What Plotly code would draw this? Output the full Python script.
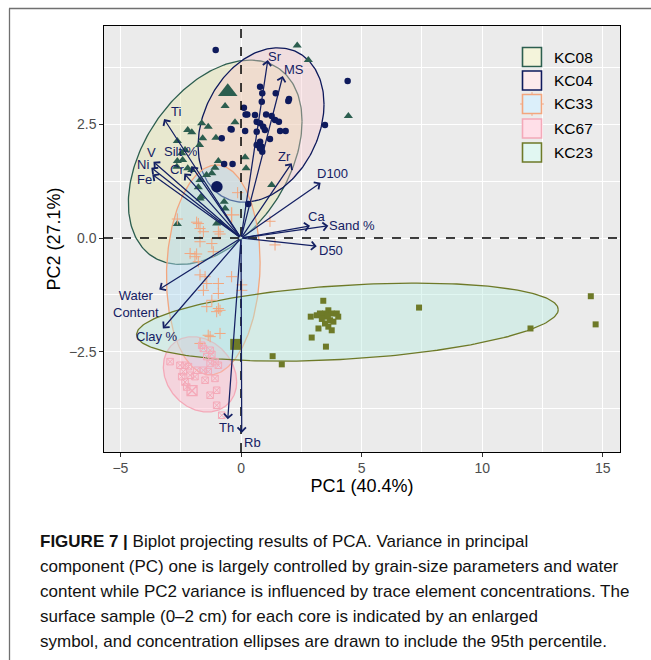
import numpy as np
import plotly.graph_objects as go

W, H = 651, 660
ML, MR, MT, MB = 104, 31, 26, 208
XR = [-5.68, 15.71]
YR = [-4.71, 4.67]

# ---------------- data ----------------
groups = ["KC08", "KC04", "KC33", "KC67", "KC23"]

kc08_x = [2.33, 2.79, 4.45, -0.66, -1.63, -2.21, -2.04, -1.36, -0.25, -1.04, -1.59, -2.64,
          -2.32, -2.46, -2.64, -2.42, -2.66, -0.94, 0.17, 0.21, -2.21, -2.04, -1.43, -1.21,
          -1.08, 1.27, -1.77, -1.66, -1.70, -0.66, -2.64, -1.01, -1.72, -1.70, -0.87, -0.70]
kc08_y = [4.24, 3.92, 2.69, 2.91, 2.53, 2.38, 2.33, 2.45, 2.55, 2.21, 2.20, 2.14,
          1.94, 1.87, 1.70, 1.72, 1.57, 1.70, 1.78, 1.54, 1.54, 1.50, 1.39, 1.43,
          1.55, 1.17, 1.12, 0.91, 0.87, 0.65, 0.31, 0.32, 2.05, 1.28, 0.34, 0.80]
kc08_surf = [-0.55, 3.22]

kc04_x = [-1.05, 3.48, 4.42, 0.79, 0.88, 0.86, 1.44, 1.96, 1.99, 0.12, 0.19, 0.26, 0.58,
          1.04, 1.27, 1.41, 1.57, 1.62, 1.85, 0.65, 0.79, 0.92, 0.99, 0.65, 1.20, 0.79,
          0.86, 0.88, -0.39, -0.80, 0.17, -0.70, -0.35, 0.30, 0.65, 0.79, -0.43]
kc04_y = [4.14, 2.49, 3.46, 3.33, 3.19, 3.00, 3.19, 3.02, 3.06, 2.87, 2.72, 2.72, 2.71,
          2.72, 2.69, 2.60, 2.56, 2.36, 2.36, 2.56, 2.53, 2.45, 2.38, 2.34, 2.18, 2.12,
          2.01, 1.90, 2.39, 2.20, 2.36, 1.63, 1.63, 0.75, 2.05, 1.97, 2.40]
kc04_surf = [-1.00, 1.13]

kc33_x = [-0.14, 1.20, -2.64, -1.84, -1.70, -0.94, -1.56, -0.87, -1.70, -1.21, -2.11, -1.84,
          -1.91, -1.15, -1.70, -1.49, -0.39, -1.42, -0.94, 0.03, -1.56, -0.94, -1.21, -1.42,
          -0.94, -0.87, -1.01, -0.87, -1.28, -1.70, 1.41, -1.77, -1.77, 0.03, -1.36]
kc33_y = [1.00, 0.37, 0.42, 0.35, 0.21, 0.14, 0.14, 0.09, -0.08, -0.12, -0.34, -0.35,
          -0.41, -0.30, -0.81, -0.85, -0.85, -1.00, -1.00, -1.03, -1.15, -1.22, -1.37, -1.51,
          -1.55, -1.59, -1.62, -2.10, -2.17, -2.32, -0.15, 0.32, -0.52, -1.15, -2.14]
kc33_surf = [-0.39, 0.51]

kc67_x = [-2.94, -2.53, -2.32, -2.18, -2.39, -2.46, -2.32, -2.11, -1.84, -1.56, -1.36, -1.08,
          -1.49, -1.91, -1.28, -1.01, -1.01, -0.80, -2.25, -1.28, -1.21, -1.42, -1.08, -0.94,
          -1.28, -1.63, -1.56]
kc67_y = [-2.72, -2.80, -2.80, -2.83, -2.94, -3.05, -3.17, -3.02, -2.91, -2.91, -2.94, -3.09,
          -3.13, -3.05, -3.46, -3.35, -3.68, -3.90, -3.28, -2.47, -2.56, -2.61, -2.72, -2.80,
          -2.76, -2.36, -2.43]
kc67_surf = [-2.03, -3.36]

kc23_x = [3.41, 2.89, 3.14, 3.27, 3.48, 3.62, 3.76, 3.97, 4.03, 3.55, 3.69, 3.48, 3.83,
          3.62, 3.76, 3.21, 2.93, 3.52, 1.69, 1.31, 7.38, 12.0, 14.5, 14.7, 3.35, 3.60]
kc23_y = [-1.38, -1.73, -1.70, -1.66, -1.66, -1.59, -1.66, -1.66, -1.73, -1.73, -1.81, -1.88,
          -1.84, -1.95, -2.03, -1.99, -2.19, -2.39, -2.78, -2.60, -1.53, -1.99, -1.28, -1.90,
          -1.78, -1.70]
kc23_surf = [-0.22, -2.34]

# concentration ellipses: centre, half extents, phase cosine
ell_cx = [-1.07, 0.83, -1.15, -1.70, 4.41]
ell_cy = [1.67, 2.49, -0.70, -3.00, -1.85]
ell_rx = [3.60, 2.61, 1.94, 1.52, 8.74]
ell_ry = [2.25, 1.70, 2.31, 0.83, 0.86]
ell_c = [0.40, 0.27, 0.07, -0.20, 0.32]

# variable loadings (arrow tips) and label anchors
var_names = ["Sr", "MS", "Ti", "V", "Ni", "Fe", "Silt %", "Cr", "Zr", "D100", "Ca",
             "Sand %", "D50", "Water<br>Content", "Clay %", "Th", "Rb"]
var_x = [1.11, 1.73, -3.19, -3.63, -3.72, -3.68, -2.05, -2.35, 2.10, 3.30, 2.86,
         3.62, 3.14, -3.39, -3.24, -0.55, 0.03]
var_y = [3.92, 3.57, 2.62, 1.68, 1.55, 1.40, 1.58, 1.42, 1.65, 1.22, 0.27,
         0.27, -0.18, -1.13, -1.99, -3.99, -4.29]
lab_x = [1.42, 2.18, -2.69, -3.72, -4.05, -4.00, -2.50, -2.65, 1.82, 3.79, 3.12,
         4.59, 3.72, -4.35, -3.49, -0.59, 0.49]
lab_y = [4.00, 3.72, 2.78, 1.89, 1.61, 1.29, 1.90, 1.50, 1.80, 1.42, 0.48,
         0.27, -0.28, -1.45, -2.16, -4.16, -4.51]

caption = [
    "<b>FIGURE 7 |</b> Biplot projecting results of PCA. Variance in principal",
    "component (PC) one is largely controlled by grain-size parameters and water",
    "content while PC2 variance is influenced by trace element concentrations. The",
    "surface sample (0\u20132 cm) for each core is indicated by an enlarged",
    "symbol, and concentration ellipses are drawn to include the 95th percentile.",
]

# ---------------- styles ----------------
NAVY = "#142063"
col = {"KC08": "#2C5E4F", "KC04": "#0E1A5C", "KC33": "#F3A67E", "KC67": "#F4A9B8", "KC23": "#6E7A28"}
fillc = {"KC08": "rgba(228,228,165,0.40)", "KC04": "rgba(250,200,205,0.38)",
         "KC33": "rgba(175,220,245,0.45)", "KC67": "rgba(255,185,205,0.45)",
         "KC23": "rgba(180,235,222,0.40)"}
sym = {"KC08": "triangle-up", "KC04": "circle", "KC33": "cross-thin-open",
       "KC67": "square-x-open", "KC23": "square"}
msize = {"KC08": 8, "KC04": 6.5, "KC33": 8, "KC67": 6.5, "KC23": 6}
bsize = {"KC08": 17, "KC04": 11.5, "KC33": 11, "KC67": 10, "KC23": 11}

pts = {"KC08": (kc08_x, kc08_y, kc08_surf), "KC04": (kc04_x, kc04_y, kc04_surf),
       "KC33": (kc33_x, kc33_y, kc33_surf), "KC67": (kc67_x, kc67_y, kc67_surf),
       "KC23": (kc23_x, kc23_y, kc23_surf)}

fig = go.Figure()

t = np.linspace(0, 2 * np.pi, 240)
for i, g in enumerate(groups):
    phi = np.arccos(ell_c[i])
    ex = ell_cx[i] + ell_rx[i] * np.cos(t)
    ey = ell_cy[i] + ell_ry[i] * np.cos(t - phi)
    fig.add_trace(go.Scatter(x=ex, y=ey, mode="lines", fill="toself", fillcolor=fillc[g],
                             line=dict(color=col[g], width=1.3), hoverinfo="skip", showlegend=False))

for g in groups:
    x, y, s = pts[g]
    lw = 1.0 if "open" in sym[g] else 0
    fig.add_trace(go.Scatter(x=x, y=y, mode="markers",
                             marker=dict(symbol=sym[g], size=msize[g], color=col[g],
                                         line=dict(width=lw, color=col[g])),
                             showlegend=False))
    fig.add_trace(go.Scatter(x=[s[0]], y=[s[1]], mode="markers",
                             marker=dict(symbol=sym[g], size=bsize[g], color=col[g],
                                         line=dict(width=lw * 1.3, color=col[g])),
                             showlegend=False))

def px2paper_x(px):
    return (px - ML) / (W - ML - MR)

def py2paper_y(py):
    return (H - MB - py) / (H - MT - MB)

anns = []
for i, n in enumerate(var_names):
    anns.append(dict(x=var_x[i], y=var_y[i], ax=0, ay=0, xref="x", yref="y", axref="x", ayref="y",
                     text="", showarrow=True, arrowhead=4, arrowsize=1.3, arrowwidth=1.25,
                     arrowcolor=NAVY, standoff=0, startstandoff=0))
for i, n in enumerate(var_names):
    anns.append(dict(x=lab_x[i], y=lab_y[i], xref="x", yref="y", text=n, showarrow=False,
                     font=dict(size=13, color=NAVY, family="Liberation Sans, Arial"),
                     xanchor="center", yanchor="middle", align="center"))

# legend (manual)
leg_x0, leg_x1 = 522.5, 541.5
leg_yc = [57.0, 80.5, 104.0, 128.5, 152.5]
shapes = []
for i, g in enumerate(groups):
    shapes.append(dict(type="rect", xref="paper", yref="paper",
                       x0=px2paper_x(leg_x0), x1=px2paper_x(leg_x1),
                       y0=py2paper_y(leg_yc[i] - 9.5), y1=py2paper_y(leg_yc[i] + 9.5),
                       fillcolor="white", line=dict(width=0), layer="above"))
    shapes.append(dict(type="rect", xref="paper", yref="paper",
                       x0=px2paper_x(leg_x0), x1=px2paper_x(leg_x1),
                       y0=py2paper_y(leg_yc[i] - 9.5), y1=py2paper_y(leg_yc[i] + 9.5),
                       fillcolor=fillc[g], line=dict(color=col[g], width=1.6), layer="above"))
    anns.append(dict(x=px2paper_x(551.5), y=py2paper_y(leg_yc[i]), xref="paper", yref="paper",
                     text=g, showarrow=False, xanchor="left", yanchor="middle",
                     font=dict(size=15.5, color="black", family="Liberation Sans, Arial")))
    lsz = {"KC08": 15, "KC04": 12, "KC33": 17, "KC67": 13, "KC23": 11}[g]
    fig.add_trace(go.Scatter(x=[px2paper_x((leg_x0 + leg_x1) / 2)], y=[py2paper_y(leg_yc[i])],
                             xaxis="x2", yaxis="y2", mode="markers",
                             marker=dict(symbol=sym[g], size=lsz, color=col[g],
                                         line=dict(width=1.0 if "open" in sym[g] else 0, color=col[g])),
                             showlegend=False))

# zero lines
shapes.append(dict(type="line", xref="x", yref="paper", x0=0, x1=0, y0=0, y1=1,
                   line=dict(color="black", width=1.5, dash="dash"), layer="above"))
shapes.append(dict(type="line", xref="paper", yref="y", x0=0, x1=1, y0=0, y1=0,
                   line=dict(color="black", width=1.5, dash="dash"), layer="above"))
# outer frame
shapes.append(dict(type="line", xref="paper", yref="paper", x0=px2paper_x(9), x1=px2paper_x(651),
                   y0=py2paper_y(8.5), y1=py2paper_y(8.5), line=dict(color="#707070", width=1.3)))
shapes.append(dict(type="line", xref="paper", yref="paper", x0=px2paper_x(9.5), x1=px2paper_x(9.5),
                   y0=py2paper_y(8.5), y1=py2paper_y(660), line=dict(color="#707070", width=1.3)))

cap_y = [541, 566, 591, 616, 641]
for i, line in enumerate(caption):
    anns.append(dict(x=px2paper_x(38), y=py2paper_y(cap_y[i]), xref="paper", yref="paper",
                     text=line, showarrow=False, xanchor="left", yanchor="middle",
                     font=dict(size=17, color="#111111", family="Liberation Sans, Arial")))

axis_common = dict(showline=True, mirror=True, linecolor="black", linewidth=1.3,
                   ticks="outside", ticklen=3.5, tickcolor="#333333", tickwidth=1.1,
                   gridcolor="white", gridwidth=1.2, zeroline=False, automargin=False,
                   tickfont=dict(size=14, color="#4D4D4D", family="Liberation Sans, Arial"))

fig.update_layout(
    width=W, height=H, margin=dict(l=ML, r=MR, t=MT, b=MB),
    paper_bgcolor="white", plot_bgcolor="#EBEBEB", showlegend=False,
    xaxis=dict(range=XR, tickvals=[-5, 0, 5, 10, 15], ticktext=["\u22125", "0", "5", "10", "15"],
               minor=dict(tickvals=[-2.5, 2.5, 7.5, 12.5], showgrid=True, gridcolor="white",
                          gridwidth=0.6, ticks=""),
               title=dict(text="PC1 (40.4%)", font=dict(size=18, color="black",
                                                        family="Liberation Sans, Arial"), standoff=3),
               **axis_common),
    yaxis=dict(range=YR, tickvals=[-2.5, 0, 2.5], ticktext=["\u22122.5", "0.0", "2.5"],
               minor=dict(tickvals=[-3.75, -1.25, 1.25, 3.75], showgrid=True, gridcolor="white",
                          gridwidth=0.6, ticks=""),
               title=dict(text="PC2 (27.1%)", font=dict(size=18, color="black",
                                                        family="Liberation Sans, Arial"), standoff=3),
               **axis_common),
    xaxis2=dict(overlaying="x", range=[0, 1], visible=False),
    yaxis2=dict(overlaying="y", range=[0, 1], visible=False),
    shapes=shapes, annotations=anns,
)

fig.write_html("out.html", config={"displayModeBar": False},
               post_script="document.body.style.margin='0';document.body.style.overflow='hidden';")
